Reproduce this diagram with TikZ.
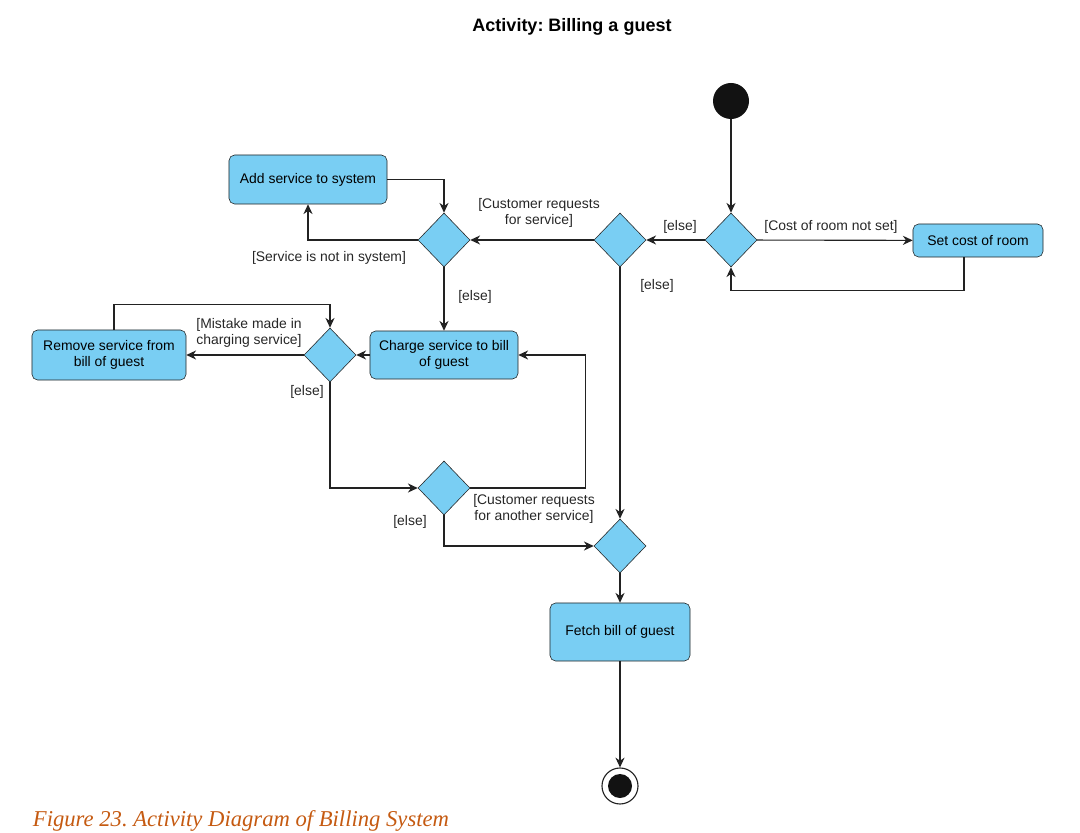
\documentclass[tikz,border=0pt]{standalone}
\usepackage{fontspec}
\setmainfont{Liberation Sans}
\newfontfamily\captionfont{Liberation Serif}
\usetikzlibrary{arrows.meta,positioning,shapes.geometric,calc}
\definecolor{actBlue}{HTML}{79CEF3}
\definecolor{actLine}{HTML}{222222}
\definecolor{capOrange}{HTML}{C55A11}
\frenchspacing

\begin{document}
\begin{tikzpicture}[
  x=0.025cm,y=-0.025cm,
  action/.style={draw=actLine,rounded corners=4pt,fill=actBlue,align=center,inner sep=1pt,font=\fontsize{9.9pt}{11.4pt}\selectfont},
  decision/.style={draw=actLine,diamond,fill=actBlue,inner sep=0pt,minimum width=1.3cm,minimum height=1.35cm},
  guard/.style={align=center,inner sep=0pt,text=black!85,font=\fontsize{9.9pt}{11.4pt}\selectfont},
  flow/.style={-{Stealth[length=7pt,width=6.5pt]},thick,actLine}]
  \useasboundingbox (0,0) rectangle (1080,833);
  \node[font=\fontsize{12.8pt}{15pt}\selectfont\bfseries] (title) at (572,27) {Activity: Billing a guest};
  \node[circle,fill=black!93,minimum size=0.9cm,inner sep=0pt] (start) at (731,101) {};
  \node[decision] (dcost) at (731,240) {};
  \node[action,minimum width=3.25cm,minimum height=0.825cm] (setcost) at (978,240.5) {Set cost of room};
  \node[decision] (dsvc) at (620,240) {};
  \node[decision] (dsys) at (444,240) {};
  \node[action,minimum width=3.95cm,minimum height=1.225cm] (addsvc) at (308,179.5) {Add service to system};
  \node[action,minimum width=3.7cm,minimum height=1.2cm] (charge) at (444,355) {Charge service to bill\\of guest};
  \node[decision] (dmist) at (330,355) {};
  \node[action,minimum width=3.85cm,minimum height=1.25cm] (remove) at (109,355) {Remove service from\\bill of guest};
  \node[decision] (dmore) at (444,488) {};
  \node[decision] (dmerge) at (620,546) {};
  \node[action,minimum width=3.5cm,minimum height=1.45cm] (fetch) at (620,632) {Fetch bill of guest};
  \node[circle,draw=actLine,thick,fill=white,minimum size=0.9cm,inner sep=0pt] (final) at (620,786) {};
  \node[circle,fill=black!93,minimum size=0.6cm,inner sep=0pt] (finaldot) at (final) {};

  \node[guard] (gelse1) at (680,227) {[else]};
  \node[guard] (groom) at (831,227) {[Cost of room not set]};
  \node[guard] (greq) at (539,213) {[Customer requests\\for service]};
  \node[guard] (gnosys) at (329,258) {[Service is not in system]};
  \node[guard] (gelse2) at (475,297) {[else]};
  \node[guard] (gelse3) at (657,286) {[else]};
  \node[guard] (gmist) at (249,333) {[Mistake made in\\charging service]};
  \node[guard] (gelse4) at (307,392) {[else]};
  \node[guard] (gmore) at (534,509) {[Customer requests\\for another service]};
  \node[guard] (gelse5) at (410,522) {[else]};

  \node[anchor=west,font=\captionfont\itshape\fontsize{16.1pt}{19pt}\selectfont,text=capOrange] (caption) at (28,821) {Figure 23. Activity Diagram of Billing System};

  \draw[flow] (start) -- (dcost);
  \draw[flow] (dcost) -- (setcost);
  \draw[flow] ([xshift=-0.35cm]setcost.south) -- ++(0,33) -| (dcost.south);
  \draw[flow] (dcost) -- (dsvc);
  \draw[flow] (dsvc) -- (dsys);
  \draw[flow] (dsys.west) -| (addsvc.south);
  \draw[flow] (addsvc.east) -| (dsys.north);
  \draw[flow] (dsys) -- (charge);
  \draw[flow] (charge) -- (dmist);
  \draw[flow] (dmist) -- (remove);
  \draw[flow] ([xshift=0.125cm]remove.north) -- ++(0,-25) -| (dmist.north);
  \draw[flow] (dmist.south) |- (dmore.west);
  \draw[flow] (dmore.east) -- ++(115,0) |- (charge.east);
  \draw[flow] (dmore.south) |- (dmerge.west);
  \draw[flow] (dsvc) -- (dmerge);
  \draw[flow] (dmerge) -- (fetch);
  \draw[flow] (fetch) -- (final);
\end{tikzpicture}
\end{document}
